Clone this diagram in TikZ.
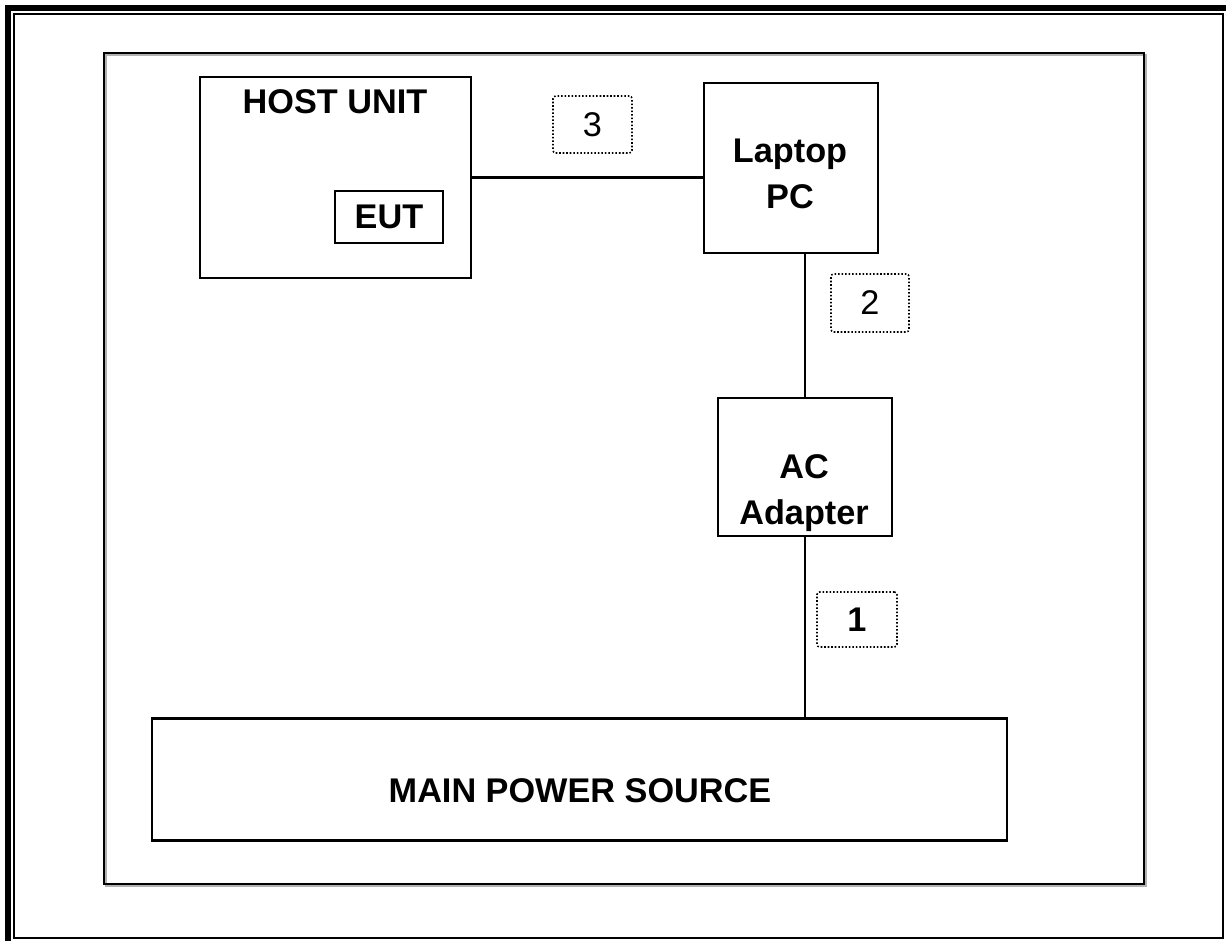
\documentclass[tikz,border=0pt]{standalone}
\usepackage{fontspec}
\setmainfont{Liberation Sans}
\begin{document}
\begin{tikzpicture}[
		x=0.02cm, y=-0.02cm,
		unit/.style={
			draw,
			line width=1.3pt,
			align=center,
			inner sep=0pt,
			font=\fontsize{19.5}{25.5}\selectfont\bfseries
		},
		cable/.style={
			draw,
			line width=0.9pt,
			dash pattern=on 0.9pt off 1.1pt,
			rounded corners=1.5pt,
			inner sep=0pt,
			font=\fontsize{19.5}{23}\selectfont
		},
		caption/.style={
			align=center,
			inner sep=0pt,
			font=\fontsize{19.5}{26.5}\selectfont\bfseries
		},
		line/.style={draw, line width=1.3pt}
		]
		
		% page and frame
		\useasboundingbox (0,0) rectangle (1226,941);
		\draw[line width=3.4pt] (8,5) -- (8,941);
		\draw[line width=3.4pt] (5,8) -- (1226,8);
		\draw[line width=1.4pt] (14,14) rectangle (1223,938);
		\draw[gray!60, line width=1pt] (106,55) rectangle (1146,886);
		\draw[line width=1.3pt] (104,53) rectangle (1144,884);
		
		% host unit
		\node[unit, minimum width=5.42cm, minimum height=4.02cm] (host) at (335.5,177.5) {};
		\node[caption, anchor=base] (hosttext) at (335,113) {HOST UNIT};
		\node[unit, minimum width=2.16cm, minimum height=1.04cm] (eut) at (389,217) {EUT};
		
		% laptop and adapter
		\node[unit, minimum width=3.48cm, minimum height=3.40cm] (laptop) at (791,168) {};
		\node[caption] (laptoptext) at (790,174) {Laptop\\PC};
		\node[unit, minimum width=3.48cm, minimum height=2.76cm] (adapter) at (805,467) {};
		\node[caption] (adaptertext) at (804,493) {AC\\Adapter};
		
		% mains
		\node[unit, minimum width=17.1cm, minimum height=2.44cm] (mains) at (579.5,779.5) {};
		\node[caption, anchor=base] (mainstext) at (580,802) {MAIN POWER SOURCE};
		
		% cable numbers
		\node[cable, minimum width=1.58cm, minimum height=1.14cm] (cab3) at (592.5,124.5) {3};
		\node[cable, minimum width=1.56cm, minimum height=1.16cm] (cab2) at (870,303) {2};
		\node[cable, minimum width=1.60cm, minimum height=1.10cm, font=\fontsize{19.5}{23}\selectfont\bfseries] (cab1) at (857,619.5) {1};
		
		% cables
		\draw[line] (host.east) -- (host.east -| laptop.west);
		\draw[line] (adapter.north) -- (adapter.north |- laptop.south);
		\draw[line] (adapter.south) -- (adapter.south |- mains.north);
		
	\end{tikzpicture}
\end{document}
